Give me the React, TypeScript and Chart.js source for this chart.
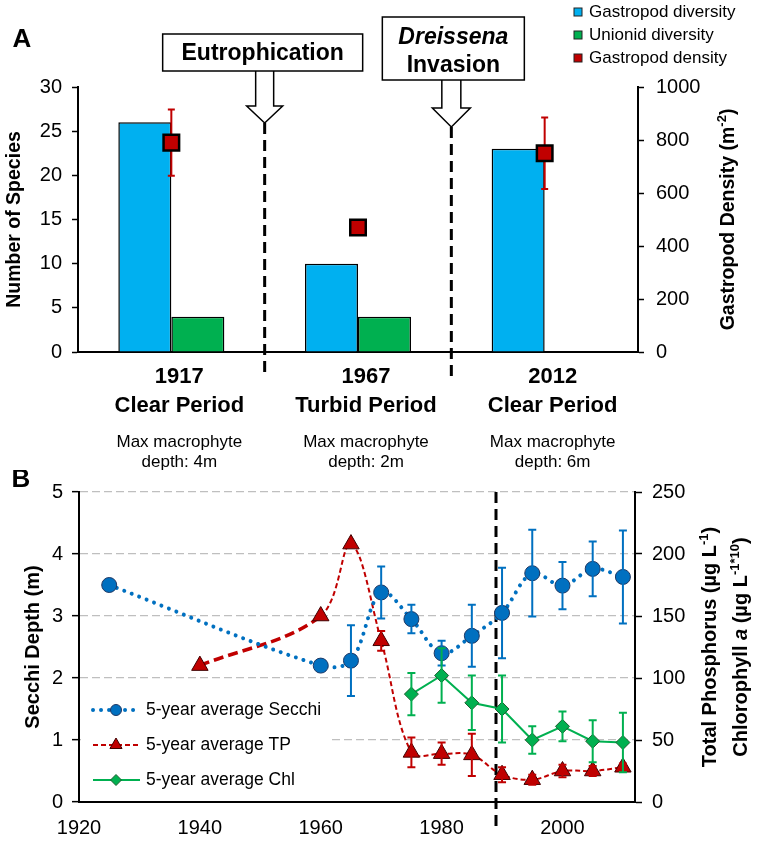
import React, { useEffect, useRef } from 'react';
import { Chart, registerables } from 'chart.js';

Chart.register(...registerables);

const FONT = '"Liberation Sans", Arial, Helvetica, sans-serif';

// ---------- Panel A data ----------
const periodLabels = [['1917', 'Clear Period'], ['1967', 'Turbid Period'], ['2012', 'Clear Period']];
const macrophyteNotes = [['Max macrophyte', 'depth: 4m'], ['Max macrophyte', 'depth: 2m'], ['Max macrophyte', 'depth: 6m']];
const gastropodDiversity = [26, 10, 23];
const unionidDiversity = [4, 4, null];
const gastropodDensity = [790, 470, 750];
const gastropodDensityErr = [125, 0, 135];
const speciesTicks = { min: 0, max: 30, step: 5 };
const densityTicks = { min: 0, max: 1000, step: 200 };
const legendA = [
  { label: 'Gastropod diversity', color: '#00B0F0' },
  { label: 'Unionid diversity', color: '#00B050' },
  { label: 'Gastropod density', color: '#C00000' },
];

// ---------- Panel B data ----------
const secchiYears = [1925, 1960, 1965, 1970, 1975, 1980, 1985, 1990, 1995, 2000, 2005, 2010];
const secchi = [3.5, 2.2, 2.28, 3.38, 2.95, 2.4, 2.68, 3.05, 3.69, 3.49, 3.76, 3.63];
const secchiErr = [0, 0, 0.57, 0.42, 0.23, 0.2, 0.5, 0.73, 0.7, 0.38, 0.44, 0.75];
const tpYears = [1940, 1960, 1965, 1970, 1975, 1980, 1985, 1990, 1995, 2000, 2005, 2010];
const tp = [110, 150, 208, 130, 40, 39, 38, 22, 18, 25, 25, 28];
const tpErr = [0, 0, 0, 8, 12, 9, 17, 6, 4, 5, 4, 3];
const chlYears = [1975, 1980, 1985, 1990, 1995, 2000, 2005, 2010];
const chl = [87, 102, 80, 75, 50, 61, 49, 48];
const chlErr = [17, 22, 22, 27, 11, 12, 17, 24];
const dreissenaYear = 1989;
const yearTicks = { min: 1920, max: 2012, step: 20 };
const secchiTicks = { min: 0, max: 5, step: 1 };
const nutrientTicks = { min: 0, max: 250, step: 50 };

Chart.defaults.font.family = FONT;
Chart.defaults.color = '#000';

type Part = { t: string; size: number; bold?: boolean; italic?: boolean; rise?: number };
const fontStr = (p: Part) => `${p.italic ? 'italic ' : ''}${p.bold ? 'bold ' : ''}${p.size}px ${FONT}`;

function drawRich(ctx: CanvasRenderingContext2D, parts: Part[], x: number, y: number, rotate: boolean) {
  ctx.save();
  ctx.translate(x, y);
  if (rotate) ctx.rotate(-Math.PI / 2);
  ctx.textBaseline = 'alphabetic';
  ctx.textAlign = 'left';
  ctx.fillStyle = '#000';
  let total = 0;
  const ws = parts.map((p) => {
    ctx.font = fontStr(p);
    const w = ctx.measureText(p.t).width;
    total += w;
    return w;
  });
  const base = Math.max(...parts.map((p) => p.size)) * 0.36;
  let cx = -total / 2;
  parts.forEach((p, i) => {
    ctx.font = fontStr(p);
    ctx.fillText(p.t, cx, base - (p.rise || 0));
    cx += ws[i];
  });
  ctx.restore();
}

function drawDownArrow(ctx: CanvasRenderingContext2D, cx: number, y0: number, y1: number, tip: number, shaftW: number, headW: number) {
  ctx.save();
  ctx.beginPath();
  ctx.moveTo(cx - shaftW / 2, y0);
  ctx.lineTo(cx - shaftW / 2, y1);
  ctx.lineTo(cx - headW / 2, y1);
  ctx.lineTo(cx, tip);
  ctx.lineTo(cx + headW / 2, y1);
  ctx.lineTo(cx + shaftW / 2, y1);
  ctx.lineTo(cx + shaftW / 2, y0);
  ctx.fillStyle = '#fff';
  ctx.fill();
  ctx.strokeStyle = '#000';
  ctx.lineWidth = 1.5;
  ctx.lineJoin = 'miter';
  ctx.stroke();
  ctx.restore();
}

function drawBox(ctx: CanvasRenderingContext2D, l: number, t: number, w: number, h: number) {
  ctx.save();
  ctx.fillStyle = '#fff';
  ctx.fillRect(l, t, w, h);
  ctx.strokeStyle = '#000';
  ctx.lineWidth = 1.5;
  ctx.strokeRect(l, t, w, h);
  ctx.restore();
}

function dashedV(ctx: CanvasRenderingContext2D, x: number, y0: number, y1: number) {
  ctx.save();
  ctx.strokeStyle = '#000';
  ctx.lineWidth = 3;
  ctx.setLineDash([11, 6]);
  ctx.beginPath();
  ctx.moveTo(x, y0);
  ctx.lineTo(x, y1);
  ctx.stroke();
  ctx.restore();
}

function errBar(ctx: CanvasRenderingContext2D, x: number, yTop: number, yBot: number, color: string, cap: number, w: number) {
  ctx.save();
  ctx.strokeStyle = color;
  ctx.lineWidth = w;
  ctx.beginPath();
  ctx.moveTo(x, yTop);
  ctx.lineTo(x, yBot);
  ctx.moveTo(x - cap, yTop);
  ctx.lineTo(x + cap, yTop);
  ctx.moveTo(x - cap, yBot);
  ctx.lineTo(x + cap, yBot);
  ctx.stroke();
  ctx.restore();
}

const panelAPlugin = {
  id: 'panelA',
  beforeDatasetDraw(chart: any, args: any) {
    if (args.index !== 0) return;
    const ctx = chart.ctx;
    const y1 = chart.scales.y1;
    const meta = chart.getDatasetMeta(0);
    meta.data.forEach((pt: any, i: number) => {
      const e = gastropodDensityErr[i];
      if (!e) return;
      const v = gastropodDensity[i];
      errBar(ctx, pt.x, y1.getPixelForValue(v + e), y1.getPixelForValue(v - e), '#C00000', 3.5, 2);
    });
  },
  afterDraw(chart: any) {
    const ctx = chart.ctx;
    const xs = chart.scales.x;
    const area = chart.chartArea;
    const c0 = xs.getPixelForValue(0);
    const c1 = xs.getPixelForValue(1);
    const c2 = xs.getPixelForValue(2);
    const b1 = (c0 + c1) / 2;
    const b2 = (c1 + c2) / 2;

    // dashed period separators
    dashedV(ctx, b1, area.top + 36, area.bottom + 26);
    dashedV(ctx, b2, area.top + 40, area.bottom + 26);

    // Eutrophication callout
    drawDownArrow(ctx, b1, area.top - 17, area.top + 19, area.top + 36, 18, 36);
    drawBox(ctx, b1 - 102, area.top - 53, 200, 37);
    drawRich(ctx, [{ t: 'Eutrophication', size: 23, bold: true }], b1 - 2, area.top - 35, false);

    // Dreissena callout
    drawDownArrow(ctx, b2, area.top - 8, area.top + 21, area.top + 40, 19, 38);
    drawBox(ctx, b2 - 69, area.top - 70, 142, 63);
    drawRich(ctx, [{ t: 'Dreissena', size: 23, bold: true, italic: true }], b2 + 2, area.top - 51, false);
    drawRich(ctx, [{ t: 'Invasion', size: 23, bold: true }], b2 + 2, area.top - 23, false);

    // panel letter
    ctx.save();
    ctx.fillStyle = '#000';
    ctx.font = `bold 26px ${FONT}`;
    ctx.textAlign = 'center';
    ctx.textBaseline = 'middle';
    ctx.fillText('A', 22, 40);
    ctx.restore();

    // macrophyte notes
    ctx.save();
    ctx.fillStyle = '#000';
    ctx.font = `17px ${FONT}`;
    ctx.textAlign = 'center';
    ctx.textBaseline = 'alphabetic';
    [c0, c1, c2].forEach((cx, i) => {
      ctx.fillText(macrophyteNotes[i][0], cx + 8, area.bottom + 95);
      ctx.fillText(macrophyteNotes[i][1], cx + 8, area.bottom + 115);
    });
    ctx.restore();

    // right axis title
    const r = chart.scales.y1;
    drawRich(
      ctx,
      [
        { t: 'Gastropod Density (m', size: 19.5, bold: true },
        { t: '-2', size: 13, bold: true, rise: 8 },
        { t: ')', size: 19.5, bold: true },
      ],
      727,
      (r.top + r.bottom) / 2,
      true
    );

    // legend
    ctx.save();
    ctx.font = `17px ${FONT}`;
    ctx.textBaseline = 'middle';
    ctx.textAlign = 'left';
    legendA.forEach((it, i) => {
      const y = 12 + i * 23;
      ctx.fillStyle = it.color;
      ctx.fillRect(574, y - 4, 8, 8);
      ctx.strokeStyle = '#222';
      ctx.lineWidth = 1;
      ctx.strokeRect(574, y - 4, 8, 8);
      ctx.fillStyle = '#000';
      ctx.fillText(it.label, 589, y);
    });
    ctx.restore();
  },
};

const panelBPlugin = {
  id: 'panelB',
  beforeDatasetsDraw(chart: any) {
    const xs = chart.scales.x;
    const area = chart.chartArea;
    dashedV(chart.ctx, xs.getPixelForValue(dreissenaYear), area.top, area.bottom + 28);
  },
  afterDatasetsDraw(chart: any) {
    const ctx = chart.ctx;
    const xs = chart.scales.x;
    const y = chart.scales.y;
    const y1 = chart.scales.y1;
    const sets: [number[], number[], number[], string, any][] = [
      [secchiYears, secchi, secchiErr, '#0070C0', y],
      [tpYears, tp, tpErr, '#C00000', y1],
      [chlYears, chl, chlErr, '#00B050', y1],
    ];
    sets.forEach(([xsV, vs, es, col, sc]) => {
      xsV.forEach((yr, i) => {
        const e = es[i];
        if (!e) return;
        errBar(ctx, xs.getPixelForValue(yr), sc.getPixelForValue(vs[i] + e), sc.getPixelForValue(vs[i] - e), col, 4, 2);
      });
    });
  },
  afterDraw(chart: any) {
    const ctx = chart.ctx;
    const area = chart.chartArea;

    // panel letter
    ctx.save();
    ctx.fillStyle = '#000';
    ctx.font = `bold 26px ${FONT}`;
    ctx.textAlign = 'center';
    ctx.textBaseline = 'middle';
    ctx.fillText('B', 21, 10);
    ctx.restore();

    // right titles
    const cy = (area.top + area.bottom) / 2;
    drawRich(
      ctx,
      [
        { t: 'Total Phosphorus (µg L', size: 20, bold: true },
        { t: '-1', size: 13, bold: true, rise: 8 },
        { t: ')', size: 20, bold: true },
      ],
      709,
      cy,
      true
    );
    drawRich(
      ctx,
      [
        { t: 'Chlorophyll ', size: 20, bold: true },
        { t: 'a', size: 20, bold: true, italic: true },
        { t: ' (µg L', size: 20, bold: true },
        { t: '-1*10', size: 13, bold: true, rise: 8 },
        { t: ')', size: 20, bold: true },
      ],
      740,
      cy,
      true
    );

    // legend
    const top = area.bottom - 110;
    ctx.save();
    ctx.fillStyle = '#fff';
    ctx.fillRect(area.left + 2, top, 250, 106);
    const rows = [area.bottom - 92, area.bottom - 57, area.bottom - 22];
    const lx0 = 93, lx1 = 140, mx = 116, tx = 146;
    // Secchi
    ctx.strokeStyle = '#0070C0';
    ctx.lineWidth = 4;
    ctx.lineCap = 'round';
    ctx.setLineDash([0.01, 8]);
    ctx.beginPath();
    ctx.moveTo(lx0, rows[0]);
    ctx.lineTo(lx1, rows[0]);
    ctx.stroke();
    ctx.setLineDash([]);
    ctx.lineCap = 'butt';
    ctx.beginPath();
    ctx.arc(mx, rows[0], 5.5, 0, Math.PI * 2);
    ctx.fillStyle = '#0070C0';
    ctx.fill();
    ctx.strokeStyle = '#1F3864';
    ctx.lineWidth = 1;
    ctx.stroke();
    // TP
    ctx.strokeStyle = '#C00000';
    ctx.lineWidth = 2;
    ctx.setLineDash([5, 3]);
    ctx.beginPath();
    ctx.moveTo(lx0, rows[1]);
    ctx.lineTo(lx1, rows[1]);
    ctx.stroke();
    ctx.setLineDash([]);
    const r = 7;
    ctx.beginPath();
    ctx.moveTo(mx, rows[1] - r);
    ctx.lineTo(mx + r * 0.866, rows[1] + r / 2);
    ctx.lineTo(mx - r * 0.866, rows[1] + r / 2);
    ctx.closePath();
    ctx.fillStyle = '#C00000';
    ctx.fill();
    ctx.strokeStyle = '#400000';
    ctx.lineWidth = 1;
    ctx.stroke();
    // Chl
    ctx.strokeStyle = '#00B050';
    ctx.lineWidth = 2;
    ctx.beginPath();
    ctx.moveTo(lx0, rows[2]);
    ctx.lineTo(lx1, rows[2]);
    ctx.stroke();
    const d = 5.5;
    ctx.beginPath();
    ctx.moveTo(mx, rows[2] - d);
    ctx.lineTo(mx + d, rows[2]);
    ctx.lineTo(mx, rows[2] + d);
    ctx.lineTo(mx - d, rows[2]);
    ctx.closePath();
    ctx.fillStyle = '#00B050';
    ctx.fill();
    ctx.strokeStyle = '#1D5E2F';
    ctx.lineWidth = 1;
    ctx.stroke();
    // texts
    ctx.fillStyle = '#000';
    ctx.font = `17.5px ${FONT}`;
    ctx.textBaseline = 'middle';
    ctx.textAlign = 'left';
    const names = chart.data.datasets.map((ds: any) => ds.label);
    names.forEach((n: string, i: number) => ctx.fillText(n, tx, rows[i]));
    ctx.restore();
  },
};

export default function App() {
  const refA = useRef<HTMLCanvasElement>(null);
  const refB = useRef<HTMLCanvasElement>(null);

  useEffect(() => {
    const tickFont = { family: FONT, size: 20 };
    const plain = (v: any) => String(v);
    const chartA = new Chart(refA.current as HTMLCanvasElement, {
      type: 'bar',
      data: {
        labels: periodLabels as any,
        datasets: [
          {
            type: 'line',
            label: 'Gastropod density',
            data: gastropodDensity,
            yAxisID: 'y1',
            showLine: false,
            pointStyle: 'rect',
            pointRadius: 11,
            pointBackgroundColor: '#C00000',
            pointBorderColor: '#000',
            pointBorderWidth: 2.5,
            order: 0,
          } as any,
          {
            label: 'Gastropod diversity',
            data: gastropodDiversity,
            backgroundColor: '#00B0F0',
            borderColor: '#000',
            borderWidth: 1.5,
            yAxisID: 'y',
            order: 1,
          },
          {
            label: 'Unionid diversity',
            data: unionidDiversity as any,
            backgroundColor: '#00B050',
            borderColor: '#000',
            borderWidth: 1.5,
            yAxisID: 'y',
            order: 1,
          },
        ],
      },
      options: {
        responsive: false,
        animation: false,
        devicePixelRatio: 1,
        layout: { padding: { top: 87, left: 0, right: 0, bottom: 0 } },
        datasets: { bar: { barPercentage: 1, categoryPercentage: 0.568 } } as any,
        plugins: { legend: { display: false }, tooltip: { enabled: false } },
        scales: {
          x: {
            offset: true,
            grid: { display: false, drawTicks: false },
            border: { display: true, color: '#000', width: 2 },
            ticks: {
              font: { family: FONT, size: 22, weight: 'bold', lineHeight: 1.32 },
              color: '#000',
              padding: 10,
              labelOffset: 8,
              maxRotation: 0,
              autoSkip: false,
            },
            afterFit: (s: any) => {
              s.height = 118;
            },
          },
          y: {
            position: 'left',
            min: speciesTicks.min,
            max: speciesTicks.max,
            ticks: { stepSize: speciesTicks.step, font: tickFont, color: '#000', padding: 10, callback: plain },
            grid: { drawOnChartArea: false, tickLength: 6, tickColor: '#000', tickWidth: 1.5 },
            border: { color: '#000', width: 2 },
            title: {
              display: true,
              text: 'Number of Species',
              color: '#000',
              font: { family: FONT, size: 19.5, weight: 'bold' },
              padding: { top: 3, bottom: 0 },
            },
            afterFit: (s: any) => {
              s.width = 78;
            },
          },
          y1: {
            position: 'right',
            min: densityTicks.min,
            max: densityTicks.max,
            ticks: { stepSize: densityTicks.step, font: tickFont, color: '#000', padding: 12, callback: plain },
            grid: { drawOnChartArea: false, tickLength: 6, tickColor: '#000', tickWidth: 1.5 },
            border: { color: '#000', width: 2 },
            afterFit: (s: any) => {
              s.width = 120;
            },
          },
        } as any,
      },
      plugins: [panelAPlugin],
    });

    const pts = (xsV: number[], vs: number[]) => xsV.map((x, i) => ({ x, y: vs[i] }));
    const chartB = new Chart(refB.current as HTMLCanvasElement, {
      type: 'line',
      data: {
        datasets: [
          {
            label: '5-year average Secchi',
            data: pts(secchiYears, secchi),
            yAxisID: 'y',
            borderColor: '#0070C0',
            borderWidth: 4,
            borderDash: [0.01, 8],
            borderCapStyle: 'round',
            tension: 0.35,
            pointStyle: 'circle',
            pointRadius: 7.5,
            pointBackgroundColor: '#0070C0',
            pointBorderColor: '#1F3864',
            pointBorderWidth: 1,
          } as any,
          {
            label: '5-year average TP',
            data: pts(tpYears, tp),
            yAxisID: 'y1',
            borderColor: '#C00000',
            borderWidth: 2,
            borderDash: [5, 3],
            tension: 0.35,
            segment: {
              borderWidth: (c: any) => (c.p0DataIndex === 0 ? 3.5 : undefined),
              borderDash: (c: any) => (c.p0DataIndex === 0 ? [10, 5] : undefined),
            },
            pointStyle: 'triangle',
            pointRadius: 9.5,
            pointBackgroundColor: '#C00000',
            pointBorderColor: '#400000',
            pointBorderWidth: 1,
          } as any,
          {
            label: '5-year average Chl',
            data: pts(chlYears, chl),
            yAxisID: 'y1',
            borderColor: '#00B050',
            borderWidth: 2,
            tension: 0,
            pointStyle: 'rectRot',
            pointRadius: 7,
            pointBackgroundColor: '#00B050',
            pointBorderColor: '#1D5E2F',
            pointBorderWidth: 1,
          } as any,
        ],
      },
      options: {
        responsive: false,
        animation: false,
        devicePixelRatio: 1,
        layout: { padding: { top: 14, left: 0, right: 0, bottom: 0 } },
        plugins: { legend: { display: false }, tooltip: { enabled: false } },
        scales: {
          x: {
            type: 'linear',
            min: yearTicks.min,
            max: yearTicks.max,
            ticks: {
              stepSize: yearTicks.step,
              includeBounds: false,
              font: tickFont,
              color: '#000',
              padding: 14,
              callback: plain,
            },
            grid: { display: false, drawTicks: false },
            border: { color: '#000', width: 2 },
            afterFit: (s: any) => {
              s.height = 40;
            },
          },
          y: {
            position: 'left',
            min: secchiTicks.min,
            max: secchiTicks.max,
            ticks: { stepSize: secchiTicks.step, font: tickFont, color: '#000', padding: 9, callback: plain },
            grid: { color: '#BFBFBF', lineWidth: 1.3, tickLength: 7, tickColor: '#000', tickWidth: 1.5 },
            border: { color: '#000', width: 2, dash: [8, 4] },
            title: {
              display: true,
              text: 'Secchi Depth (m)',
              color: '#000',
              font: { family: FONT, size: 20, weight: 'bold' },
              padding: { top: 21, bottom: 0 },
            },
            afterFit: (s: any) => {
              s.width = 79;
            },
          },
          y1: {
            position: 'right',
            min: nutrientTicks.min,
            max: nutrientTicks.max,
            ticks: { stepSize: nutrientTicks.step, font: tickFont, color: '#000', padding: 10, callback: plain },
            grid: { drawOnChartArea: false, tickLength: 7, tickColor: '#000', tickWidth: 1.5 },
            border: { color: '#000', width: 2 },
            afterFit: (s: any) => {
              s.width = 123;
            },
          },
        } as any,
      },
      plugins: [panelBPlugin],
    });

    return () => {
      chartA.destroy();
      chartB.destroy();
    };
  }, []);

  return (
    <div style={{ position: 'absolute', left: 0, top: 0, width: 758, height: 842, background: '#fff' }}>
      <canvas ref={refA} width={758} height={470} style={{ position: 'absolute', left: 0, top: 0 }} />
      <canvas ref={refB} width={758} height={372} style={{ position: 'absolute', left: 0, top: 470 }} />
    </div>
  );
}
